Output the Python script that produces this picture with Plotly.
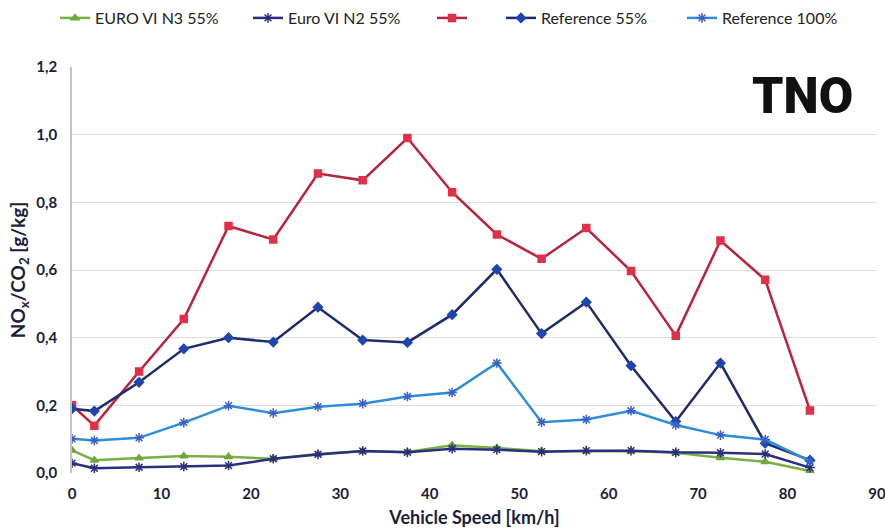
import plotly.graph_objects as go

# Vehicle speed bins [km/h]
speed = [0, 2.5, 7.5, 12.5, 17.5, 22.5, 27.5, 32.5, 37.5, 42.5,
         47.5, 52.5, 57.5, 62.5, 67.5, 72.5, 77.5, 82.5]

# NOx/CO2 ratios [g/kg] per speed bin
euro6_n3_55 = [0.067, 0.038, 0.044, 0.050, 0.048, 0.042, 0.056, 0.064, 0.062, 0.082,
               0.074, 0.064, 0.064, 0.065, 0.060, 0.045, 0.033, 0.006]
euro6_n2_55 = [0.029, 0.014, 0.017, 0.019, 0.022, 0.042, 0.055, 0.065, 0.061, 0.072,
               0.069, 0.063, 0.066, 0.066, 0.061, 0.060, 0.056, 0.016]
unnamed_red = [0.200, 0.140, 0.300, 0.455, 0.730, 0.690, 0.885, 0.865, 0.990, 0.830,
               0.705, 0.633, 0.724, 0.597, 0.406, 0.687, 0.571, 0.185]
reference_55 = [0.190, 0.183, 0.268, 0.367, 0.400, 0.387, 0.490, 0.393, 0.386, 0.468,
                0.602, 0.412, 0.505, 0.317, 0.152, 0.325, 0.088, 0.038]
reference_100 = [0.101, 0.096, 0.104, 0.149, 0.199, 0.177, 0.196, 0.205, 0.226, 0.238,
                 0.325, 0.150, 0.158, 0.184, 0.142, 0.112, 0.099, 0.035]

y_ticks = [0, 0.2, 0.4, 0.6, 0.8, 1.0, 1.2]
x_ticks = [0, 10, 20, 30, 40, 50, 60, 70, 80, 90]

W, H = 885, 531
FONT = "Lato"
INK = "#1b1d3a"

series = [
    # name, values, line colour, marker colour, symbol, legend id, legend left px
    ("EURO VI N3 55%", euro6_n3_55, "#78b043", "#6ea83c", "triangle-up", "legend", 55),
    ("Euro VI N2 55%", euro6_n2_55, "#2a2f7c", "#2a2f7c", "asterisk-open", "legend2", 248),
    (" ", unnamed_red, "#b8243c", "#e0304a", "square", "legend3", 432),
    ("Reference 55%", reference_55, "#1f2c6c", "#1f44b0", "diamond", "legend4", 501),
    ("Reference 100%", reference_100, "#2f8dd8", "#3a60c4", "asterisk-open", "legend5", 682),
]

fig = go.Figure()
for name, vals, lc, mc, sym, leg, _ in series:
    fig.add_trace(go.Scatter(
        x=speed, y=vals, name=name, mode="lines+markers",
        line=dict(color=lc, width=2.5),
        marker=dict(symbol=sym, size=7 if "asterisk" not in sym else 8,
                    color=mc, line=dict(color=mc, width=1.5)),
        legend=leg,
    ))

layout_legends = {}
for name, vals, lc, mc, sym, leg, left in series:
    layout_legends[leg] = dict(
        x=left / W, y=1 - 18 / H, xref="container", yref="container",
        xanchor="left", yanchor="middle", orientation="h",
        bgcolor="rgba(0,0,0,0)", borderwidth=0,
        font=dict(family=FONT, size=16, color="#222222"),
        itemwidth=30,
    )

fig.update_layout(
    width=W, height=H,
    margin=dict(l=72, r=8, t=67, b=58, autoexpand=False),
    paper_bgcolor="white", plot_bgcolor="white",
    separators=",.",
    showlegend=True,
    font=dict(family=FONT, color=INK),
    **layout_legends,
)

fig.update_xaxes(
    range=[0, 90], tickvals=x_ticks, showgrid=False, zeroline=False,
    showline=False, ticks="", ticklabelstandoff=10, automargin=False,
    ticklabeloverflow="allow",
    tickfont=dict(family=FONT, size=15, color=INK, weight="bold"),
    title=dict(text="Vehicle Speed [km/h]", standoff=10,
               font=dict(family=FONT, size=18, color=INK, weight="bold")),
)
fig.update_yaxes(
    range=[0, 1.2], tickvals=y_ticks, tickformat=".1f",
    showgrid=True, gridcolor="#dcdcdc", gridwidth=1, zeroline=False,
    showline=True, linecolor="#c4c4c4", linewidth=1.5, ticks="",
    ticklabelstandoff=10, automargin=False,
    tickfont=dict(family=FONT, size=15, color=INK, weight="bold"),
    title=dict(text="NO<sub>x</sub>/CO<sub>2</sub> [g/kg]", standoff=6,
               font=dict(family=FONT, size=19, color=INK, weight="bold")),
)

# TNO logo mark
fig.add_annotation(
    text="TNO", xref="paper", yref="paper", x=0.973, y=0.929,
    xanchor="right", yanchor="middle", showarrow=False,
    font=dict(family="Roboto", size=50, color="#111111", weight=900),
)

fig.write_html("out.html")
